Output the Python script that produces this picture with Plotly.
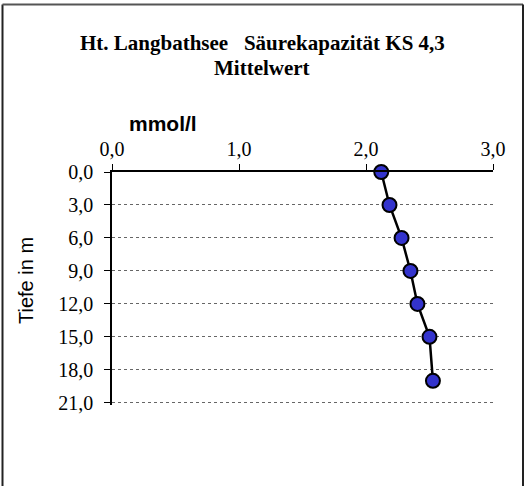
import plotly.graph_objects as go

# Data
tiefe = [0, 3, 6, 9, 12, 15, 19]
kapazitaet = [2.12, 2.185, 2.28, 2.35, 2.405, 2.50, 2.527]
x_ticks = [0, 1, 2, 3]
y_ticks = [0, 3, 6, 9, 12, 15, 18, 21]

W, H = 524, 486
L, R, T, B = 112, 31, 172, 81
pw, ph = W - L - R, H - T - B

def px(x):
    return (x - L) / pw

def py(y):
    return (H - B - y) / ph

fig = go.Figure()
fig.add_trace(go.Scatter(
    x=kapazitaet, y=tiefe, mode="lines+markers",
    line=dict(color="black", width=2.5),
    marker=dict(size=14, color="#3333CC", line=dict(color="black", width=2)),
    showlegend=False, cliponaxis=False,
))

fig.update_layout(
    width=W, height=H, autosize=False,
    margin=dict(l=L, r=R, t=T, b=B),
    paper_bgcolor="white", plot_bgcolor="white",
    separators=", ",
    xaxis=dict(
        side="top", range=[0, 3], tickvals=x_ticks, tickformat=".1f",
        showgrid=False, zeroline=False,
        showline=True, linecolor="black", linewidth=1.5,
        ticks="outside", ticklen=6, tickcolor="black",
        tickfont=dict(family="Liberation Serif", size=20, color="black"),
    ),
    yaxis=dict(
        range=[21.2, 0], tickvals=y_ticks, tickformat=".1f",
        showgrid=True, gridcolor="#666666", griddash="dot", gridwidth=1,
        zeroline=False,
        showline=True, linecolor="black", linewidth=1.5,
        ticks="outside", ticklen=6, tickcolor="black", ticklabelstandoff=7,
        tickfont=dict(family="Liberation Serif", size=20, color="black"),
    ),
    annotations=[
        dict(text="<b>Ht. Langbathsee\u00a0\u00a0\u00a0Säurekapazität KS 4,3</b>",
             xref="paper", yref="paper", x=px(262), y=py(43), xanchor="center", yanchor="middle",
             showarrow=False, font=dict(family="Liberation Serif", size=21, color="black")),
        dict(text="<b>Mittelwert</b>",
             xref="paper", yref="paper", x=px(262), y=py(68), xanchor="center", yanchor="middle",
             showarrow=False, font=dict(family="Liberation Serif", size=21, color="black")),
        dict(text="<b>mmol/l</b>",
             xref="paper", yref="paper", x=px(162.5), y=py(123), xanchor="center", yanchor="middle",
             showarrow=False, font=dict(family="Liberation Sans", size=21, color="black")),
        dict(text="Tiefe in m", textangle=-90,
             xref="paper", yref="paper", x=px(26), y=py(281), xanchor="center", yanchor="middle",
             showarrow=False, font=dict(family="Liberation Sans", size=20, color="black")),
    ],
    shapes=[
        dict(type="line", xref="paper", yref="paper", x0=px(2.5), x1=px(2.5), y0=py(4.5), y1=py(495),
             line=dict(color="#222222", width=2)),
        dict(type="line", xref="paper", yref="paper", x0=px(2.5), x1=px(523), y0=py(4.5), y1=py(4.5),
             line=dict(color="#555555", width=2)),
        dict(type="line", xref="paper", yref="paper", x0=px(523), x1=px(523), y0=py(4.5), y1=py(495),
             line=dict(color="#222222", width=2)),
    ],
)

fig.write_html("out.html", config={"displayModeBar": False},
               post_script="document.body.style.margin='0';document.body.style.overflow='hidden';")
